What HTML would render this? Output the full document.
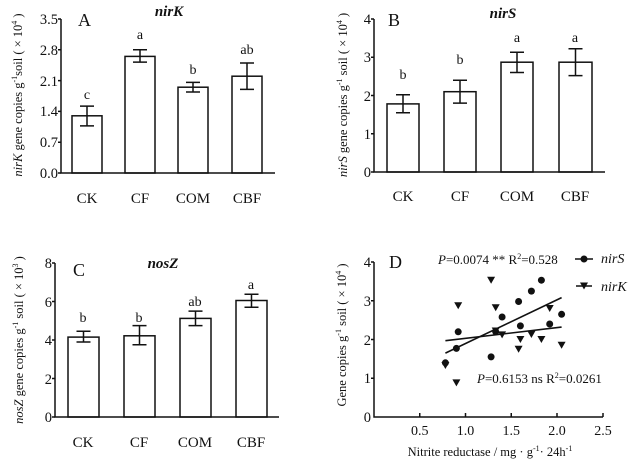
<!DOCTYPE html>
<html><head><meta charset="utf-8"><style>
html,body{margin:0;padding:0;background:#fff}
svg{display:block;font-family:"Liberation Serif",serif;}
text{fill:#111}
</style></head><body>
<svg width="640" height="461" viewBox="0 0 640 461" xmlns="http://www.w3.org/2000/svg">
<defs>
<polygon id="t" points="-4,-3.5 4,-3.5 0,3.5" fill="#111"/>
</defs>
<g stroke="#111" stroke-width="1.5" fill="none">
<path d="M61,19 V173 H275"/>
<path d="M58,19H61M58,49.8H61M58,80.6H61M58,111.4H61M58,142.2H61M58,173H61"/>
<rect x="72" y="115.8" width="30" height="57.2"/>
<rect x="125" y="56.4" width="30" height="116.6"/>
<rect x="178" y="87.2" width="30" height="85.8"/>
<rect x="232" y="76.2" width="30" height="96.8"/>
<path d="M87,106.1V125.9M80,106.1H94M80,125.9H94"/>
<path d="M140,49.8V62.1M133,49.8H147M133,62.1H147"/>
<path d="M193,82.4V92M186,82.4H200M186,92H200"/>
<path d="M247,63V89.4M240,63H254M240,89.4H254"/>
<path d="M374,19 V172 H605"/>
<path d="M371,19H374M371,57.25H374M371,95.5H374M371,133.75H374M371,172H374"/>
<rect x="387" y="103.9" width="32" height="68.1"/>
<rect x="444" y="91.7" width="32" height="80.3"/>
<rect x="501" y="62.2" width="32" height="109.8"/>
<rect x="559" y="62.2" width="33" height="109.8"/>
<path d="M403,94.7V112.7M396,94.7H410M396,112.7H410"/>
<path d="M460,80.2V103.1M453,80.2H467M453,103.1H467"/>
<path d="M517,52.3V72.5M510,52.3H524M510,72.5H524"/>
<path d="M575.5,48.8V75.6M568.5,48.8H582.5M568.5,75.6H582.5"/>
<path d="M55,263 V417 H279"/>
<path d="M52,263H55M52,301.5H55M52,340H55M52,378.5H55M52,417H55"/>
<rect x="68" y="337.1" width="31" height="79.9"/>
<rect x="124" y="335.8" width="31" height="81.2"/>
<rect x="180" y="318.4" width="31" height="98.6"/>
<rect x="236" y="300.5" width="31" height="116.5"/>
<path d="M83.5,331.3V342M76.5,331.3H90.5M76.5,342H90.5"/>
<path d="M139.5,325.6V344.8M132.5,325.6H146.5M132.5,344.8H146.5"/>
<path d="M195.5,311.1V325.6M188.5,311.1H202.5M188.5,325.6H202.5"/>
<path d="M251.5,294.2V307.3M244.5,294.2H258.5M244.5,307.3H258.5"/>
<path d="M374,262 V417 H603"/>
<path d="M371,262H374M371,300.75H374M371,339.5H374M371,378.25H374"/>
<path d="M419.75,417V413M465.5,417V413M511.25,417V413M557,417V413M603,417V413"/>
<path d="M445.4,353.1L561.6,297.6" stroke-width="1.6"/>
<path d="M445.4,340.7L561.6,327.1" stroke-width="1.6"/>
<path d="M575,259H593M576,286H592"/>
</g>
<g fill="#111">
<circle cx="445.4" cy="362.8" r="3.5"/><circle cx="456.4" cy="348.4" r="3.5"/>
<circle cx="458.2" cy="331.8" r="3.5"/><circle cx="491.1" cy="356.9" r="3.5"/>
<circle cx="502.1" cy="317" r="3.5"/><circle cx="518.6" cy="301.5" r="3.5"/>
<circle cx="520.4" cy="325.9" r="3.5"/><circle cx="531.4" cy="291.1" r="3.5"/>
<circle cx="541.4" cy="280.2" r="3.5"/><circle cx="549.7" cy="324" r="3.5"/>
<circle cx="561.6" cy="314.3" r="3.5"/><circle cx="495.7" cy="331.8" r="3.5"/>
<circle cx="584" cy="259" r="3.5"/>
</g>
<use href="#t" x="445.4" y="365.5"/><use href="#t" x="456.4" y="382.9"/>
<use href="#t" x="458.2" y="305.8"/><use href="#t" x="491.1" y="280.2"/>
<use href="#t" x="495.7" y="307.7"/><use href="#t" x="495.7" y="331"/>
<use href="#t" x="502.1" y="334.9"/><use href="#t" x="518.6" y="349.2"/>
<use href="#t" x="520.4" y="339.5"/><use href="#t" x="531.4" y="334.5"/>
<use href="#t" x="541.4" y="339.5"/><use href="#t" x="549.7" y="308.5"/>
<use href="#t" x="561.6" y="345.3"/><use href="#t" x="584" y="286"/>

<g font-size="14.5" text-anchor="end">
<text x="58" y="24">3.5</text><text x="58" y="55">2.8</text><text x="58" y="86">2.1</text><text x="58" y="116">1.4</text><text x="58" y="147">0.7</text><text x="58" y="178">0.0</text>
<text x="371" y="24">4</text><text x="371" y="62">3</text><text x="371" y="101">2</text><text x="371" y="139">1</text><text x="371" y="177">0</text>
<text x="52" y="268">8</text><text x="52" y="307">6</text><text x="52" y="345">4</text><text x="52" y="384">2</text><text x="52" y="422">0</text>
<text x="371" y="267">4</text><text x="371" y="306">3</text><text x="371" y="345">2</text><text x="371" y="383">1</text><text x="371" y="422">0</text>
</g>
<g font-size="15" text-anchor="middle">
<text x="87" y="203">CK</text><text x="140" y="203">CF</text><text x="193" y="203">COM</text><text x="247" y="203">CBF</text>
<text x="403" y="201">CK</text><text x="460" y="201">CF</text><text x="517" y="201">COM</text><text x="575" y="201">CBF</text>
<text x="83" y="447">CK</text><text x="139" y="447">CF</text><text x="195" y="447">COM</text><text x="251" y="447">CBF</text>
</g>
<g font-size="14" text-anchor="middle">
<text x="87" y="99">c</text><text x="140" y="39">a</text><text x="193" y="74">b</text><text x="247" y="54">ab</text>
<text x="403" y="79">b</text><text x="460" y="64">b</text><text x="517" y="42">a</text><text x="575" y="42">a</text>
<text x="83" y="322">b</text><text x="139" y="322">b</text><text x="195" y="306">ab</text><text x="251" y="289">a</text>
<text x="419.75" y="435">0.5</text><text x="465.5" y="435">1.0</text><text x="511.25" y="435">1.5</text><text x="557" y="435">2.0</text><text x="603" y="435">2.5</text>
</g>
<g font-size="18">
<text x="78" y="26">A</text><text x="388" y="26">B</text><text x="73" y="276">C</text><text x="389" y="268">D</text>
</g>
<g font-size="15" font-weight="bold" font-style="italic" text-anchor="middle">
<text x="169" y="16">nirK</text><text x="503" y="18">nirS</text><text x="163" y="268">nosZ</text>
</g>
<g font-size="12.5" text-anchor="middle">
<text transform="translate(22,95) rotate(-90)"><tspan font-style="italic">nirK</tspan> gene copies g<tspan dy="-5" font-size="8">-1</tspan><tspan dy="5">soil ( × 10</tspan><tspan dy="-5" font-size="8">4</tspan><tspan dy="5"> )</tspan></text>
<text transform="translate(347,95) rotate(-90)"><tspan font-style="italic">nirS</tspan> gene copies g<tspan dy="-5" font-size="8">-1</tspan><tspan dy="5"> soil ( × 10</tspan><tspan dy="-5" font-size="8">4</tspan><tspan dy="5"> )</tspan></text>
<text transform="translate(23,340) rotate(-90)"><tspan font-style="italic">nosZ</tspan> gene copies g<tspan dy="-5" font-size="8">-1</tspan><tspan dy="5"> soil ( × 10</tspan><tspan dy="-5" font-size="8">3</tspan><tspan dy="5"> )</tspan></text>
<text transform="translate(346,335) rotate(-90)">Gene copies g<tspan dy="-5" font-size="8">-1</tspan><tspan dy="5">  soil ( × 10</tspan><tspan dy="-5" font-size="8">4</tspan><tspan dy="5"> )</tspan></text>
<text x="490" y="456">Nitrite reductase / mg · g<tspan dy="-5" font-size="8">-1</tspan><tspan dy="5">· 24h</tspan><tspan dy="-5" font-size="8">-1</tspan></text>
</g>
<g font-size="13">
<text x="438" y="264"><tspan font-style="italic">P</tspan>=0.0074 **  R<tspan dy="-5" font-size="8">2</tspan><tspan dy="5">=0.528</tspan></text>
<text x="477" y="383"><tspan font-style="italic">P</tspan>=0.6153 ns  R<tspan dy="-5" font-size="8">2</tspan><tspan dy="5">=0.0261</tspan></text>
<text x="601" y="263" font-style="italic" font-size="14">nirS</text>
<text x="601" y="291" font-style="italic" font-size="14">nirK</text>
</g>
</svg>
</body></html>
